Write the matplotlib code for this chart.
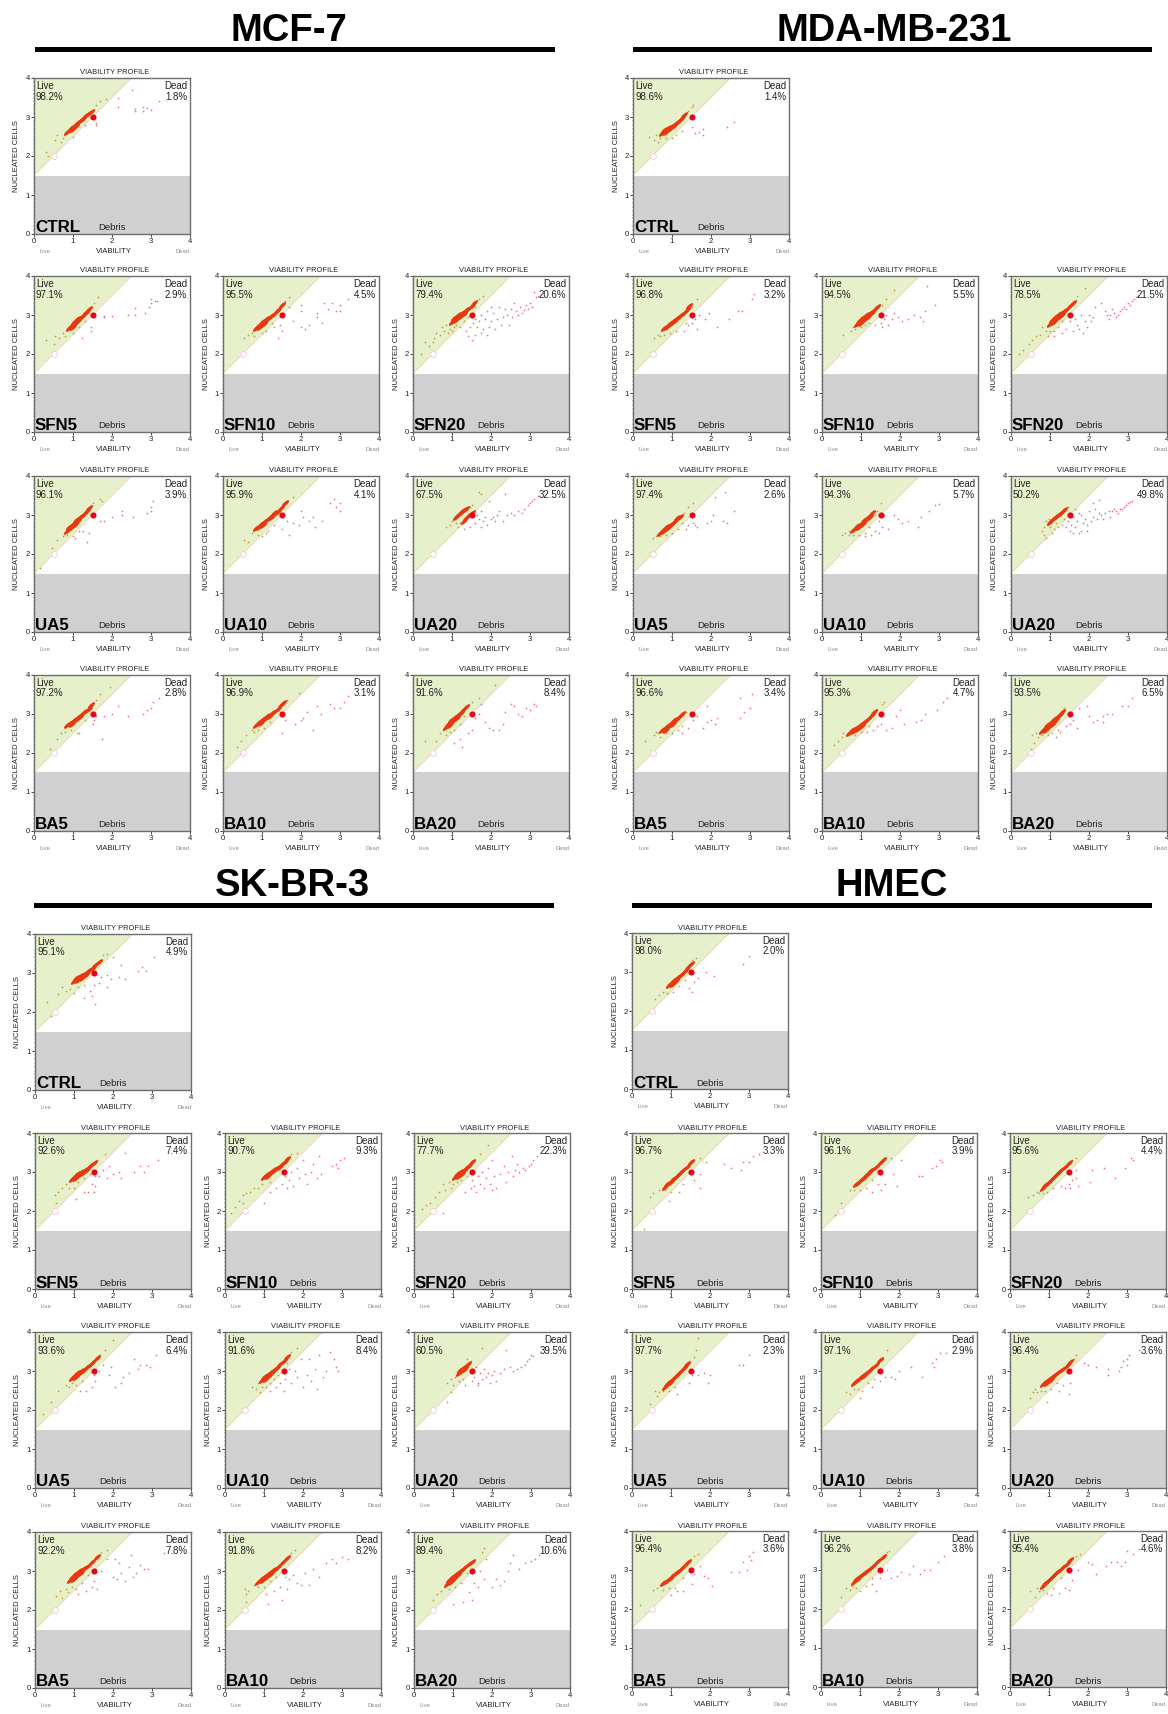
#! /usr/bin/python
# Viability profile panels for four cell lines

import matplotlib
matplotlib.use('Agg')
import matplotlib.pyplot as plt
from matplotlib.path import Path
from matplotlib.ticker import MultipleLocator
from matplotlib.transforms import Affine2D

plt.rcParams['font.family'] = ['Liberation Sans', 'DejaVu Sans']

treatments = ['CTRL', 'SFN5', 'SFN10', 'SFN20', 'UA5', 'UA10', 'UA20', 'BA5', 'BA10', 'BA20']

mcf_live_pct = [98.2, 97.1, 95.5, 79.4, 96.1, 95.9, 67.5, 97.2, 96.9, 91.6]
mcf_dead_pct = [1.8, 2.9, 4.5, 20.6, 3.9, 4.1, 32.5, 2.8, 3.1, 8.4]
mda_live_pct = [98.6, 96.8, 94.5, 78.5, 97.4, 94.3, 50.2, 96.6, 95.3, 93.5]
mda_dead_pct = [1.4, 3.2, 5.5, 21.5, 2.6, 5.7, 49.8, 3.4, 4.7, 6.5]
sk_live_pct = [95.1, 92.6, 90.7, 77.7, 93.6, 91.6, 60.5, 92.2, 91.8, 89.4]
sk_dead_pct = [4.9, 7.4, 9.3, 22.3, 6.4, 8.4, 39.5, 7.8, 8.2, 10.6]
hmec_live_pct = [98.0, 96.7, 96.1, 95.6, 97.7, 97.1, 96.4, 96.4, 96.2, 95.4]
hmec_dead_pct = [2.0, 3.3, 3.9, 4.4, 2.3, 2.9, 3.6, 3.6, 3.8, 4.6]

# MCF-7
m_ctrl_core = [(0.85,2.62),(0.92,2.66),(0.95,2.72),(1.0,2.7),(1.03,2.78),(1.08,2.76),(1.1,2.84),(1.16,2.86),(1.2,2.92),(1.26,2.96),(1.32,3.02),(1.38,3.08),(1.45,3.14)]
m_ctrl_live = [(0.3,2.1),(0.35,2.0),(0.55,2.4),(0.6,2.55),(0.7,2.35),(0.75,2.45),(1.7,3.4),(1.85,3.45),(1.6,3.3),(1.0,2.5),(1.3,2.8)]
m_ctrl_dead = [(2.15,3.5),(2.15,3.25),(2.5,3.7),(2.6,3.2),(2.6,3.15),(2.8,3.25),(2.8,3.15),(2.9,3.22),(3.0,3.18),(3.2,3.4),(1.6,2.85),(1.6,2.8)]
m_sfn5_core = [(0.9,2.66),(0.95,2.72),(1.0,2.7),(1.02,2.82),(1.08,2.8),(1.1,2.9),(1.16,2.88),(1.2,2.96),(1.26,2.98),(1.3,3.04),(1.36,3.08),(1.42,3.16)]
m_sfn5_live = [(0.3,2.35),(0.55,2.45),(0.65,2.4),(0.75,2.55),(0.8,2.45),(1.0,2.55),(1.15,2.7),(1.3,2.85),(1.55,3.3),(1.65,3.45),(0.5,2.25)]
m_sfn5_dead = [(1.45,2.7),(1.45,2.6),(1.22,2.4),(1.8,2.98),(1.8,2.95),(2.0,2.98),(2.4,3.0),(2.6,3.18),(2.6,3.0),(2.85,3.05),(2.95,3.2),(3.0,3.4),(3.0,3.3),(3.1,3.35),(3.15,3.35)]
m_sfn10_core = [(0.85,2.66),(0.9,2.72),(0.95,2.7),(1.0,2.82),(1.05,2.78),(1.1,2.9),(1.16,2.9),(1.22,2.98),(1.28,3.0),(1.35,3.08),(1.42,3.14),(1.5,3.26)]
m_sfn10_live = [(0.55,2.4),(0.65,2.5),(0.75,2.55),(0.8,2.45),(1.0,2.55),(1.1,2.6),(1.25,2.8),(1.6,3.35),(1.7,3.45),(1.3,2.7)]
m_sfn10_dead = [(1.4,2.4),(1.5,2.6),(1.45,2.75),(1.7,3.2),(2.0,3.25),(2.0,3.1),(2.0,2.7),(2.1,2.65),(2.2,2.75),(2.4,3.05),(2.4,2.95),(2.55,2.8),(2.6,3.3),(2.7,3.15),(2.8,3.3),(2.9,3.1),(3.0,3.1),(3.0,3.25),(3.2,3.4),(1.8,2.85)]
m_sfn20_core = [(1.0,2.82),(1.05,2.92),(1.1,2.88),(1.15,3.0),(1.2,2.95),(1.25,3.05),(1.3,3.02),(1.35,3.12),(1.42,3.16),(1.5,3.24),(1.56,3.3)]
m_sfn20_live = [(0.3,2.3),(0.4,2.2),(0.5,2.3),(0.55,2.4),(0.6,2.55),(0.7,2.5),(0.75,2.7),(0.8,2.6),(0.85,2.75),(0.9,2.55),(0.95,2.65),(1.0,2.6),(1.05,2.7),(1.1,2.75),(1.2,2.7),(1.3,2.85),(1.4,2.95),(1.7,3.4),(1.8,3.5),(1.6,3.2),(0.2,2.0)]
m_sfn20_dead = [(1.5,2.35),(1.35,2.6),(1.45,2.7),(1.55,2.8),(1.6,2.9),(1.65,2.7),(1.7,2.85),(1.75,3.0),(1.8,2.65),(1.85,2.9),(1.9,3.1),(1.95,2.7),(2.0,2.85),(2.05,3.05),(2.1,2.65),(2.15,2.9),(2.2,3.2),(2.25,2.75),(2.3,2.95),(2.35,3.15),(2.4,3.0),(2.45,2.75),(2.5,3.15),(2.55,2.95),(2.6,3.3),(2.65,3.1),(2.7,3.0),(2.75,3.2),(2.8,3.05),(2.85,3.12),(2.9,3.25),(2.95,3.15),(3.0,3.3),(3.05,3.2),(3.1,3.6),(3.15,3.45),(3.2,3.5),(1.6,2.5),(1.75,2.55),(1.9,2.5),(2.0,3.2),(1.4,2.45)]
m_ua5_core = [(0.85,2.6),(0.9,2.68),(0.95,2.66),(1.0,2.78),(1.05,2.74),(1.08,2.86),(1.13,2.84),(1.18,2.94),(1.24,2.98),(1.3,3.04),(1.36,3.1),(1.42,3.18)]
m_ua5_live = [(0.15,1.65),(0.45,2.15),(0.6,2.35),(0.75,2.45),(0.85,2.5),(1.0,2.45),(1.15,2.6),(1.5,3.3),(1.7,3.4),(1.75,3.35)]
m_ua5_dead = [(1.05,2.4),(1.35,2.3),(1.4,2.55),(1.25,2.6),(1.7,2.85),(1.8,2.85),(2.0,2.95),(2.25,3.0),(2.25,3.1),(2.55,2.95),(2.9,3.05),(3.0,3.1),(3.0,3.2),(3.05,3.35)]
m_ua10_core = [(0.85,2.66),(0.92,2.7),(0.98,2.76),(1.03,2.74),(1.08,2.84),(1.14,2.86),(1.2,2.94),(1.26,2.96),(1.32,3.04),(1.4,3.08),(1.48,3.18),(1.58,3.3)]
m_ua10_live = [(0.55,2.35),(0.65,2.3),(0.75,2.55),(0.9,2.5),(1.0,2.45),(1.15,2.6),(1.3,2.75),(1.65,3.3),(1.8,3.45),(1.1,2.55)]
m_ua10_dead = [(1.5,2.65),(1.7,2.5),(1.65,2.85),(1.8,2.8),(1.95,2.75),(2.0,3.1),(2.05,2.95),(2.2,2.85),(2.35,2.7),(2.55,2.85),(2.75,3.3),(2.85,3.4),(2.9,3.2),(3.0,3.3),(3.0,3.1),(2.3,2.95)]
m_ua20_core = [(1.1,2.95),(1.14,2.98),(1.18,3.02),(1.22,3.06),(1.26,3.1),(1.3,3.13),(1.36,3.16),(1.3,2.85),(1.36,2.92),(1.44,3.0),(1.52,3.05)]
m_ua20_live = [(0.85,2.7),(0.95,2.75),(1.0,2.85),(1.1,2.8),(1.15,2.7),(1.2,2.8),(1.3,2.65),(1.45,3.2),(1.5,3.25),(1.7,3.6),(1.75,3.55),(1.05,2.9)]
m_ua20_dead = [(1.45,2.7),(1.55,2.95),(1.6,2.8),(1.65,3.0),(1.7,2.9),(1.75,3.1),(1.8,2.85),(1.85,2.95),(1.9,2.75),(2.0,2.9),(2.05,2.95),(2.1,2.85),(2.15,3.0),(2.2,3.1),(2.3,2.85),(2.35,3.55),(2.4,3.0),(2.5,3.05),(2.6,3.0),(2.7,3.1),(2.8,3.05),(2.85,3.15),(2.95,3.25),(3.0,3.3),(3.05,3.35),(3.1,3.4),(3.2,3.5),(1.75,2.7),(1.95,3.35)]
m_ba5_core = [(0.85,2.72),(0.92,2.76),(0.98,2.74),(1.02,2.84),(1.08,2.84),(1.12,2.92),(1.18,2.92),(1.22,3.0),(1.28,3.04),(1.34,3.08),(1.4,3.14),(1.46,3.22)]
m_ba5_live = [(0.4,2.1),(0.6,2.35),(0.7,2.5),(0.8,2.55),(0.95,2.6),(1.1,2.5),(1.3,2.85),(1.6,3.35),(1.7,3.5),(1.95,3.7)]
m_ba5_dead = [(1.15,2.5),(1.55,2.85),(1.6,2.95),(1.75,2.35),(1.8,2.95),(2.0,3.0),(2.15,3.2),(2.4,2.95),(2.8,3.0),(2.9,3.1),(3.0,3.15),(3.05,3.3),(3.2,3.4),(1.5,2.75)]
m_ba10_core = [(0.85,2.72),(0.92,2.8),(0.98,2.78),(1.03,2.88),(1.08,2.86),(1.13,2.94),(1.2,2.96),(1.25,3.02),(1.32,3.06),(1.4,3.14),(1.48,3.22),(1.55,3.28)]
m_ba10_live = [(0.35,2.15),(0.45,2.3),(0.6,2.45),(0.75,2.6),(0.9,2.6),(1.05,2.65),(1.2,2.8),(1.65,3.35),(1.95,3.55),(0.8,2.55)]
m_ba10_dead = [(1.5,2.5),(1.6,2.85),(1.85,2.75),(2.05,2.9),(2.15,3.05),(2.3,2.6),(2.4,3.2),(2.5,3.0),(2.75,3.25),(2.85,3.15),(3.0,3.15),(3.1,3.3),(3.2,3.45),(2.0,2.85)]
m_ba20_core = [(0.85,2.66),(0.9,2.75),(0.95,2.72),(0.98,2.85),(1.03,2.82),(1.08,2.92),(1.12,2.9),(1.18,3.0),(1.22,3.02),(1.28,3.1),(1.35,3.18)]
m_ba20_live = [(0.3,2.3),(0.6,2.3),(0.7,2.5),(0.78,2.6),(0.85,2.45),(0.95,2.55),(1.05,2.6),(1.2,2.75),(1.3,2.95),(1.5,3.3),(1.7,3.4),(2.1,3.75)]
m_ba20_dead = [(1.2,2.35),(1.25,2.15),(1.05,2.25),(1.4,2.5),(1.5,2.6),(1.6,2.9),(1.7,3.0),(1.75,3.25),(1.85,2.8),(1.95,2.65),(2.05,2.6),(2.2,2.6),(2.3,2.75),(2.35,3.05),(2.5,3.25),(2.6,3.2),(2.7,3.0),(2.8,2.95),(2.9,3.15),(3.0,3.1),(3.1,3.25),(3.15,3.2)]

# MDA-MB-231
d_ctrl_core = [(0.75,2.6),(0.8,2.66),(0.85,2.62),(0.9,2.72),(0.95,2.68),(1.0,2.78),(1.05,2.76),(1.1,2.84),(1.15,2.88),(1.2,2.92),(1.25,2.98),(1.3,3.04)]
d_ctrl_live = [(0.4,2.5),(0.55,2.4),(0.6,2.55),(0.7,2.45),(0.85,2.45),(1.0,2.45),(1.1,2.55),(1.25,2.65),(1.5,3.25),(1.55,3.3),(1.4,3.15),(0.65,2.35)]
d_ctrl_dead = [(1.5,2.75),(1.6,2.6),(1.7,2.62),(1.8,2.68),(1.8,2.55),(2.4,2.75),(2.6,2.88)]
d_sfn5_core = [(0.8,2.66),(0.88,2.7),(0.92,2.78),(0.98,2.76),(1.03,2.84),(1.08,2.84),(1.13,2.92),(1.18,2.94),(1.24,3.0),(1.3,3.06),(1.38,3.14),(1.44,3.24)]
d_sfn5_live = [(0.55,2.4),(0.65,2.5),(0.7,2.45),(0.8,2.5),(0.95,2.55),(1.1,2.6),(1.5,3.2),(1.65,3.4),(1.35,2.8)]
d_sfn5_dead = [(1.3,2.6),(1.4,2.75),(1.5,2.8),(1.6,2.9),(1.7,3.0),(1.65,2.65),(1.85,2.9),(1.95,3.05),(2.15,2.7),(2.45,2.9),(2.7,3.1),(2.8,3.1),(3.05,3.4),(3.1,3.55)]
d_sfn10_core = [(0.9,2.76),(0.95,2.84),(1.0,2.8),(1.03,2.92),(1.08,2.88),(1.12,3.0),(1.17,2.96),(1.22,3.06),(1.27,3.04),(1.33,3.12),(1.4,3.2)]
d_sfn10_live = [(0.55,2.5),(0.75,2.6),(0.85,2.65),(1.0,2.7),(1.1,2.75),(1.2,2.8),(1.55,3.25),(1.65,3.4),(1.85,3.65),(0.8,2.7)]
d_sfn10_dead = [(1.35,2.75),(1.5,2.8),(1.6,2.9),(1.65,3.0),(1.7,2.75),(1.8,2.9),(1.85,3.05),(1.95,2.95),(2.05,2.85),(2.2,2.9),(2.35,3.0),(2.5,2.95),(2.6,2.85),(2.65,3.1),(2.7,3.75),(2.9,3.25),(1.55,2.7)]
d_sfn20_core = [(1.0,2.76),(1.05,2.86),(1.1,2.82),(1.14,2.96),(1.2,2.92),(1.24,3.02),(1.3,3.0),(1.35,3.1),(1.42,3.14),(1.5,3.22),(1.58,3.3)]
d_sfn20_live = [(0.2,2.0),(0.3,2.1),(0.45,2.25),(0.55,2.35),(0.65,2.45),(0.75,2.5),(0.8,2.7),(0.9,2.6),(0.95,2.45),(1.0,2.6),(1.1,2.6),(1.2,2.7),(1.3,2.85),(1.45,3.0),(1.7,3.5),(1.9,3.7)]
d_sfn20_dead = [(1.1,2.45),(1.3,2.55),(1.4,2.65),(1.5,2.85),(1.6,2.6),(1.65,2.9),(1.7,2.75),(1.75,2.65),(1.8,3.0),(1.85,2.55),(1.9,2.85),(1.95,2.7),(2.0,3.0),(2.05,2.85),(2.1,2.95),(2.15,3.2),(2.3,3.3),(2.4,3.1),(2.45,3.0),(2.5,2.9),(2.55,3.0),(2.6,3.15),(2.65,3.05),(2.7,2.95),(2.75,3.0),(2.8,3.1),(2.85,3.15),(2.9,3.2),(2.95,3.15),(3.0,3.3),(3.05,3.25),(3.1,3.35),(3.15,3.4),(3.2,3.45),(3.25,3.5)]
d_ua5_core = [(0.7,2.55),(0.76,2.62),(0.8,2.6),(0.85,2.68),(0.9,2.66),(0.94,2.74),(0.98,2.74),(1.02,2.8),(1.06,2.82),(1.1,2.86),(1.14,2.92),(1.2,2.96)]
d_ua5_live = [(0.5,2.4),(0.6,2.45),(0.7,2.45),(0.85,2.5),(1.0,2.55),(1.15,2.65),(1.3,3.05),(1.4,3.2),(1.55,3.3),(0.65,2.5),(1.25,2.8)]
d_ua5_dead = [(1.35,2.65),(1.55,2.8),(1.6,2.75),(1.65,2.7),(1.9,2.8),(2.0,2.85),(2.05,3.0),(2.3,2.85),(2.4,2.8),(2.6,3.1),(2.35,3.6),(2.1,3.45),(1.4,2.75)]
d_ua10_core = [(0.8,2.62),(0.86,2.66),(0.9,2.72),(0.95,2.7),(1.0,2.78),(1.04,2.76),(1.08,2.86),(1.13,2.86),(1.18,2.94),(1.22,2.96),(1.28,3.04)]
d_ua10_live = [(0.5,2.5),(0.6,2.55),(0.7,2.5),(0.8,2.5),(0.95,2.5),(1.1,2.55),(1.2,2.7),(1.4,3.1),(1.5,3.3),(0.7,2.6),(1.35,3.0)]
d_ua10_dead = [(1.1,2.45),(1.25,2.5),(1.35,2.6),(1.45,2.55),(1.55,2.7),(1.6,3.0),(1.7,2.65),(1.85,3.0),(1.95,2.9),(2.05,2.8),(2.2,2.85),(2.45,2.7),(2.55,2.95),(2.75,3.1),(2.9,3.25),(3.0,3.28),(1.45,2.85)]
d_ua20_core = [(1.0,2.82),(1.05,2.88),(1.1,2.92),(1.15,2.96),(1.2,3.0),(1.25,3.03),(1.3,3.08),(1.35,3.12)]
d_ua20_live = [(0.8,2.6),(0.85,2.7),(0.9,2.85),(0.95,2.75),(1.0,2.7),(1.05,2.55),(1.1,2.65),(1.15,2.8),(1.2,2.7),(1.3,2.75),(1.35,2.9),(1.45,3.2),(0.9,2.4),(0.85,2.5),(0.98,2.9)]
d_ua20_dead = [(1.4,2.7),(1.45,2.85),(1.5,2.6),(1.55,2.75),(1.6,2.95),(1.65,2.7),(1.7,2.85),(1.75,3.05),(1.8,2.6),(1.85,2.8),(1.9,2.9),(1.95,2.75),(2.0,3.1),(2.05,2.85),(2.1,2.95),(2.15,3.15),(2.2,2.9),(2.25,3.05),(2.3,3.0),(2.35,2.9),(2.4,3.05),(2.5,3.1),(2.55,2.95),(2.6,3.1),(2.65,3.15),(2.7,3.1),(2.75,3.05),(2.8,3.15),(2.85,3.15),(2.9,3.2),(2.95,3.25),(3.0,3.3),(3.05,3.33),(3.1,3.35),(1.5,3.05),(1.65,3.15),(1.8,3.0),(1.95,2.6),(2.1,3.3),(2.25,3.38),(1.6,2.55),(1.75,2.55)]
d_ba5_core = [(0.75,2.58),(0.8,2.62),(0.85,2.6),(0.88,2.7),(0.93,2.68),(0.98,2.76),(1.02,2.74),(1.06,2.84),(1.1,2.84),(1.15,2.9),(1.2,2.96),(1.25,3.0)]
d_ba5_live = [(0.3,2.3),(0.55,2.45),(0.65,2.5),(0.7,2.4),(0.85,2.5),(1.0,2.5),(1.15,2.6),(1.25,2.7),(1.35,3.05),(0.6,2.55)]
d_ba5_dead = [(1.25,2.5),(1.4,2.65),(1.55,2.85),(1.65,2.95),(1.8,2.65),(1.9,3.2),(1.9,2.8),(2.0,2.85),(2.1,2.75),(2.15,2.9),(2.75,3.4),(2.75,2.9),(2.85,3.05),(3.0,3.15),(3.05,3.5)]
d_ba10_core = [(0.7,2.52),(0.76,2.58),(0.82,2.56),(0.88,2.64),(0.92,2.62),(0.98,2.72),(1.03,2.7),(1.08,2.8),(1.13,2.82),(1.2,2.9),(1.28,2.98),(1.34,3.05)]
d_ba10_live = [(0.3,2.2),(0.4,2.3),(0.5,2.4),(0.55,2.5),(0.7,2.45),(0.85,2.45),(1.0,2.55),(1.2,2.7),(1.4,3.1),(1.55,3.25),(1.6,3.3)]
d_ba10_dead = [(1.15,2.55),(1.3,2.6),(1.4,2.7),(1.5,2.75),(1.65,2.6),(1.8,2.65),(1.9,2.95),(2.0,3.1),(2.1,2.75),(2.4,2.8),(2.55,2.85),(2.65,3.0),(2.95,3.1),(3.1,3.3),(3.2,3.4)]
d_ba20_core = [(0.8,2.56),(0.85,2.62),(0.9,2.58),(0.93,2.72),(0.98,2.66),(1.02,2.8),(1.07,2.74),(1.1,2.88),(1.15,2.84),(1.2,2.96),(1.26,2.98),(1.3,3.06)]
d_ba20_live = [(0.55,2.45),(0.6,2.25),(0.65,2.5),(0.7,2.4),(0.8,2.45),(0.95,2.45),(1.05,2.5),(1.2,2.6),(1.35,3.15),(0.5,2.1)]
d_ba20_dead = [(1.15,2.4),(1.25,2.55),(1.4,2.7),(1.5,2.75),(1.6,2.85),(1.7,2.65),(1.75,3.15),(2.0,2.95),(2.1,2.8),(2.2,2.85),(2.35,2.8),(2.35,2.95),(2.45,3.0),(2.6,3.0),(2.85,3.2),(3.0,3.2),(3.1,3.4),(1.95,3.2)]

# SK-BR-3
s_ctrl_core = [(1.0,2.8),(1.06,2.86),(1.1,2.82),(1.15,2.92),(1.2,2.88),(1.25,2.98),(1.3,2.96),(1.36,3.04),(1.42,3.08),(1.48,3.14),(1.55,3.2),(1.65,3.28)]
s_ctrl_live = [(0.3,2.25),(0.6,2.45),(0.7,2.65),(0.8,2.55),(0.9,2.6),(1.0,2.5),(1.1,2.65),(1.25,2.7),(1.75,3.45),(1.85,3.5),(2.0,3.4),(0.4,1.9)]
s_ctrl_dead = [(1.25,2.35),(1.45,2.4),(1.55,2.2),(1.5,2.7),(1.65,2.75),(1.7,2.9),(1.85,2.65),(1.85,2.95),(1.95,2.85),(2.15,2.9),(2.3,2.85),(2.2,3.2),(2.65,3.05),(2.75,3.15),(2.85,3.05),(3.05,3.4),(1.4,2.55)]
s_sfn5_core = [(0.95,2.82),(1.0,2.88),(1.05,2.84),(1.08,2.94),(1.13,2.92),(1.18,3.0),(1.23,2.98),(1.28,3.06),(1.33,3.06),(1.38,3.14),(1.44,3.18),(1.5,3.24)]
s_sfn5_live = [(0.5,2.4),(0.6,2.5),(0.7,2.6),(0.8,2.7),(0.88,2.6),(1.0,2.6),(1.1,2.75),(1.25,2.85),(1.4,2.95),(1.6,3.3),(1.8,3.45),(0.55,2.2)]
s_sfn5_dead = [(1.05,2.3),(1.25,2.5),(1.35,2.5),(1.45,2.7),(1.55,2.65),(1.55,2.9),(1.65,2.9),(1.75,3.05),(1.85,2.85),(1.9,3.15),(2.0,2.95),(2.15,3.0),(2.2,2.85),(2.3,3.5),(2.55,3.0),(2.7,3.15),(2.8,3.0),(2.9,3.15),(3.15,3.3),(1.5,2.5)]
s_sfn10_core = [(1.0,2.86),(1.05,2.92),(1.1,2.9),(1.14,2.98),(1.19,2.98),(1.24,3.04),(1.29,3.04),(1.34,3.1),(1.4,3.14),(1.46,3.2),(1.53,3.26),(1.6,3.34)]
s_sfn10_live = [(0.15,1.95),(0.25,2.1),(0.35,2.25),(0.45,2.4),(0.55,2.45),(0.65,2.5),(0.75,2.6),(0.85,2.6),(0.95,2.7),(0.45,2.2),(1.7,3.45),(1.85,3.5),(1.15,2.75)]
s_sfn10_dead = [(1.0,2.2),(1.15,2.5),(1.3,2.6),(1.45,2.7),(1.55,2.9),(1.65,2.8),(1.7,3.0),(1.75,2.65),(1.85,3.1),(1.9,2.85),(2.0,3.3),(2.05,2.95),(2.1,2.7),(2.2,3.0),(2.25,3.2),(2.35,2.85),(2.4,3.4),(2.45,2.95),(2.75,3.15),(2.85,3.2),(2.9,3.1),(2.95,3.3),(3.05,3.35),(1.6,2.6)]
s_sfn20_core = [(1.05,2.86),(1.1,2.94),(1.15,2.9),(1.18,3.0),(1.23,2.96),(1.27,3.06),(1.32,3.04),(1.36,3.14),(1.42,3.16),(1.5,3.26)]
s_sfn20_live = [(0.3,2.15),(0.4,2.2),(0.55,2.35),(0.65,2.5),(0.75,2.7),(0.8,2.55),(0.9,2.75),(0.95,2.6),(1.0,2.7),(1.1,2.75),(1.2,2.8),(1.35,2.9),(1.55,3.3),(1.7,3.45),(1.9,3.7),(0.2,2.05)]
s_sfn20_dead = [(0.75,1.95),(1.3,2.5),(1.45,2.6),(1.5,2.8),(1.6,2.5),(1.65,2.9),(1.7,2.7),(1.75,3.0),(1.8,2.6),(1.85,2.85),(1.9,3.1),(1.95,2.7),(2.0,3.3),(2.05,2.9),(2.1,2.6),(2.2,2.95),(2.3,3.15),(2.35,2.75),(2.4,3.0),(2.5,3.4),(2.55,2.9),(2.6,3.05),(2.65,3.2),(2.7,3.0),(2.8,3.1),(2.85,3.05),(2.95,3.15),(3.0,3.2),(3.05,3.3),(3.15,3.4),(1.55,2.65),(2.0,2.55)]
s_ua5_core = [(0.95,2.82),(1.0,2.88),(1.05,2.84),(1.08,2.94),(1.14,2.92),(1.18,3.0),(1.23,3.0),(1.28,3.06),(1.34,3.1),(1.4,3.16),(1.48,3.24),(1.58,3.34)]
s_ua5_live = [(0.2,1.9),(0.4,2.2),(0.6,2.5),(0.8,2.65),(0.88,2.6),(0.95,2.7),(1.05,2.65),(1.2,2.75),(1.65,3.4),(1.8,3.55),(2.0,3.8)]
s_ua5_dead = [(1.15,2.5),(1.3,2.5),(1.45,2.6),(1.55,2.75),(1.65,3.0),(1.75,3.15),(1.95,3.1),(2.05,2.6),(2.2,2.7),(2.25,2.85),(2.4,2.95),(2.55,3.3),(2.65,3.05),(2.7,3.15),(2.85,3.15),(2.95,3.1),(3.1,3.4),(1.9,2.9),(1.5,2.9)]
s_ua10_core = [(0.95,2.76),(1.0,2.84),(1.05,2.8),(1.08,2.9),(1.13,2.88),(1.18,2.98),(1.23,2.98),(1.28,3.06),(1.34,3.08),(1.42,3.18),(1.5,3.26),(1.6,3.36)]
s_ua10_live = [(0.7,2.6),(0.8,2.55),(0.85,2.7),(0.95,2.6),(1.05,2.6),(1.15,2.7),(1.25,2.8),(1.7,3.5),(1.85,3.6),(0.9,2.45),(1.35,2.9)]
s_ua10_dead = [(1.15,2.5),(1.3,2.6),(1.4,2.7),(1.5,2.5),(1.55,2.8),(1.65,3.05),(1.7,2.7),(1.8,3.0),(1.85,2.85),(1.95,3.3),(2.0,2.6),(2.1,2.9),(2.15,3.3),(2.2,2.75),(2.3,3.05),(2.35,2.55),(2.5,2.85),(2.6,3.0),(2.7,3.5),(2.8,3.3),(2.85,3.1),(2.9,3.0),(2.4,3.4),(1.6,3.2)]
s_ua20_core = [(1.15,2.96),(1.18,3.02),(1.22,3.0),(1.25,3.08),(1.3,3.06),(1.33,3.14),(1.38,3.18)]
s_ua20_live = [(0.85,2.7),(0.95,2.8),(1.0,2.65),(1.05,2.85),(1.15,2.75),(1.25,2.8),(1.3,2.65),(1.35,3.3),(1.45,3.25),(1.75,3.6),(0.95,2.45),(0.85,2.2)]
s_ua20_dead = [(1.45,2.95),(1.55,2.85),(1.6,3.1),(1.65,2.7),(1.7,2.95),(1.75,2.8),(1.8,3.05),(1.85,2.85),(1.9,2.95),(1.95,2.7),(2.0,2.9),(2.05,3.0),(2.1,2.75),(2.2,2.95),(2.3,3.05),(2.35,3.55),(2.45,3.1),(2.55,3.0),(2.65,3.05),(2.75,3.1),(2.85,3.15),(2.9,3.25),(2.95,3.3),(3.0,3.4),(3.05,3.38),(1.65,2.65),(1.5,2.75)]
s_ba5_core = [(0.9,2.76),(0.95,2.84),(1.0,2.8),(1.03,2.92),(1.08,2.88),(1.12,3.0),(1.18,2.96),(1.22,3.06),(1.28,3.08),(1.35,3.14),(1.45,3.24),(1.58,3.36)]
s_ba5_live = [(0.55,2.35),(0.65,2.5),(0.8,2.55),(0.85,2.45),(0.95,2.6),(1.05,2.55),(1.2,2.7),(1.35,2.9),(1.7,3.5),(1.85,3.55),(0.7,2.3)]
s_ba5_dead = [(1.1,2.4),(1.3,2.5),(1.45,2.6),(1.5,2.75),(1.6,2.55),(1.7,3.0),(1.85,3.3),(2.0,2.85),(2.05,3.3),(2.1,2.8),(2.2,2.95),(2.3,2.75),(2.4,3.1),(2.45,3.4),(2.5,2.85),(2.6,2.95),(2.7,3.15),(2.8,3.05),(2.9,3.05),(3.3,3.45),(2.15,3.2)]
s_ba10_core = [(0.85,2.72),(0.92,2.8),(0.97,2.76),(1.02,2.88),(1.07,2.84),(1.13,2.96),(1.18,2.92),(1.24,3.02),(1.3,3.04),(1.38,3.14),(1.48,3.22),(1.6,3.34)]
s_ba10_live = [(0.5,2.55),(0.55,2.2),(0.6,2.5),(0.75,2.65),(0.85,2.6),(1.0,2.6),(1.15,2.75),(1.3,2.85),(1.7,3.45),(1.8,3.55),(0.55,2.4)]
s_ba10_dead = [(1.1,2.15),(1.45,2.25),(1.05,2.4),(1.25,2.5),(1.4,2.6),(1.55,2.85),(1.65,2.8),(1.75,2.9),(1.85,2.7),(1.95,2.65),(2.05,2.95),(2.15,2.65),(2.25,3.05),(2.4,2.85),(2.6,3.2),(2.75,3.3),(2.85,3.2),(3.0,3.35),(3.15,3.3),(1.6,2.55)]
s_ba20_core = [(0.85,2.66),(0.9,2.76),(0.95,2.72),(0.98,2.84),(1.03,2.8),(1.08,2.92),(1.13,2.9),(1.18,3.0),(1.24,3.02),(1.32,3.1),(1.4,3.18),(1.48,3.24)]
s_ba20_live = [(0.5,2.25),(0.6,2.4),(0.7,2.5),(0.8,2.6),(0.9,2.55),(1.05,2.6),(1.2,2.7),(1.35,2.95),(1.75,3.5),(1.8,3.6),(0.5,2.05)]
s_ba20_dead = [(1.0,2.15),(1.25,2.2),(1.4,2.45),(1.5,2.25),(1.55,2.7),(1.7,3.0),(1.8,2.8),(1.85,3.3),(2.0,2.6),(2.1,2.8),(2.2,2.65),(2.4,3.0),(2.45,3.2),(2.55,3.4),(2.7,3.05),(2.85,3.2),(3.0,3.25),(3.1,3.3),(3.2,3.4),(2.3,2.75),(1.65,2.6)]

# HMEC
h_ctrl_core = [(0.95,2.66),(1.0,2.72),(1.04,2.7),(1.08,2.8),(1.13,2.78),(1.17,2.86),(1.22,2.9),(1.28,2.96),(1.33,3.0),(1.38,3.06),(1.44,3.12),(1.5,3.2)]
h_ctrl_live = [(0.6,2.3),(0.7,2.4),(0.8,2.5),(0.9,2.45),(1.05,2.5),(1.2,2.65),(1.55,3.3),(1.65,3.35),(1.35,2.8)]
h_ctrl_dead = [(1.45,2.6),(1.6,2.75),(1.7,2.85),(1.9,3.0),(2.85,3.2),(3.0,3.4),(2.1,2.9),(1.55,2.5)]
h_sfn5_core = [(0.85,2.62),(0.9,2.68),(0.95,2.72),(1.0,2.74),(1.05,2.82),(1.1,2.84),(1.15,2.9),(1.2,2.94),(1.26,3.0),(1.32,3.06),(1.4,3.14),(1.5,3.26)]
h_sfn5_live = [(0.3,1.55),(0.45,2.35),(0.55,2.45),(0.7,2.55),(0.85,2.55),(1.0,2.5),(1.6,3.3),(1.75,3.35),(1.9,3.25)]
h_sfn5_dead = [(0.95,2.25),(1.2,2.5),(1.3,2.7),(1.6,2.8),(1.75,2.95),(1.75,2.6),(2.35,3.2),(2.55,3.1),(2.8,3.05),(2.85,3.25),(3.0,3.25),(3.1,3.4),(3.25,3.45)]
h_sfn10_core = [(0.9,2.68),(0.95,2.72),(1.0,2.76),(1.05,2.82),(1.1,2.84),(1.15,2.92),(1.2,2.94),(1.26,3.02),(1.32,3.06),(1.4,3.14),(1.5,3.24),(1.6,3.32)]
h_sfn10_live = [(0.35,1.9),(0.5,2.2),(0.75,2.55),(0.85,2.55),(1.0,2.55),(1.15,2.6),(1.3,2.8),(1.65,3.35),(1.8,3.35)]
h_sfn10_dead = [(1.3,2.5),(1.45,2.7),(1.55,2.55),(1.65,2.7),(1.85,2.95),(1.95,2.65),(2.05,3.3),(2.5,2.9),(2.6,2.9),(2.85,3.1),(2.95,3.15),(3.05,3.3),(3.1,3.25)]
h_sfn20_core = [(0.85,2.6),(0.9,2.66),(0.95,2.7),(1.0,2.74),(1.05,2.8),(1.1,2.84),(1.15,2.9),(1.2,2.94),(1.26,3.0),(1.32,3.06),(1.4,3.14),(1.5,3.22)]
h_sfn20_live = [(0.45,2.35),(0.6,2.4),(0.75,2.45),(0.85,2.45),(0.95,2.5),(1.1,2.6),(1.6,3.3),(1.7,3.35),(0.7,2.5)]
h_sfn20_dead = [(1.3,2.65),(1.4,2.6),(1.5,2.7),(1.55,2.6),(1.6,2.8),(1.7,2.85),(1.7,3.05),(2.05,2.75),(2.1,3.05),(2.4,3.1),(2.7,2.85),(2.95,3.1),(3.1,3.35),(3.15,3.3),(1.75,2.65)]
h_ua5_core = [(0.85,2.6),(0.9,2.66),(0.94,2.72),(0.98,2.7),(1.03,2.78),(1.08,2.82),(1.13,2.88),(1.18,2.92),(1.24,2.98),(1.3,3.04),(1.36,3.1),(1.42,3.18)]
h_ua5_live = [(0.45,2.15),(0.6,2.5),(0.7,2.45),(0.8,2.5),(0.95,2.5),(1.1,2.6),(1.6,3.35),(1.65,3.55),(1.7,3.85),(0.65,2.35)]
h_ua5_dead = [(1.15,2.4),(1.45,2.7),(1.55,2.9),(1.7,2.9),(1.85,2.95),(1.95,2.7),(2.0,2.9),(2.75,3.15),(2.85,3.15),(3.0,3.4)]
h_ua10_core = [(0.85,2.7),(0.9,2.74),(0.95,2.78),(1.0,2.82),(1.05,2.86),(1.1,2.88),(1.15,2.94),(1.2,2.98),(1.26,3.02),(1.32,3.08),(1.4,3.16),(1.5,3.28)]
h_ua10_live = [(0.65,2.45),(0.75,2.4),(0.85,2.55),(0.95,2.55),(1.05,2.5),(1.2,2.7),(1.35,2.8),(1.6,3.3),(1.7,3.55),(0.8,2.65)]
h_ua10_dead = [(1.0,2.3),(1.3,2.6),(1.5,2.75),(1.65,2.85),(1.8,2.85),(2.0,3.0),(2.3,3.1),(2.6,2.85),(2.85,3.2),(2.95,3.3),(3.05,3.45),(3.2,3.45),(1.9,2.8),(2.9,3.1)]
h_ua20_core = [(0.85,2.66),(0.9,2.72),(0.95,2.7),(1.0,2.8),(1.05,2.78),(1.1,2.86),(1.15,2.9),(1.2,2.96),(1.27,3.0),(1.35,3.06),(1.45,3.14),(1.55,3.24)]
h_ua20_live = [(0.5,2.3),(0.6,2.45),(0.7,2.45),(0.8,2.5),(0.9,2.5),(1.05,2.55),(1.2,2.7),(1.65,3.3),(1.7,3.4),(0.65,2.55),(0.95,2.2)]
h_ua20_dead = [(1.25,2.5),(1.35,2.65),(1.5,2.4),(1.55,2.7),(1.9,3.2),(2.0,3.15),(2.2,3.1),(2.5,3.05),(2.5,2.9),(2.8,3.0),(2.85,3.1),(3.0,3.15),(3.0,3.3),(3.05,3.4),(2.9,3.25),(3.3,3.55)]
h_ba5_core = [(0.8,2.66),(0.85,2.7),(0.9,2.72),(0.95,2.78),(1.0,2.8),(1.05,2.86),(1.1,2.9),(1.15,2.94),(1.2,2.98),(1.28,3.04),(1.36,3.12),(1.44,3.2)]
h_ba5_live = [(0.2,2.1),(0.55,2.5),(0.65,2.55),(0.8,2.5),(0.95,2.55),(1.1,2.55),(1.3,2.8),(1.6,3.35),(1.7,3.4)]
h_ba5_dead = [(1.0,2.35),(1.15,2.45),(1.3,2.45),(1.55,2.65),(1.6,2.9),(1.75,3.1),(1.85,2.85),(1.95,2.8),(2.05,2.6),(2.55,2.95),(2.75,2.95),(2.85,3.2),(2.95,3.0),(3.0,3.35),(3.05,3.25),(3.1,3.45)]
h_ba10_core = [(0.85,2.7),(0.9,2.76),(0.95,2.78),(1.0,2.84),(1.05,2.86),(1.1,2.92),(1.15,2.96),(1.2,3.0),(1.27,3.06),(1.35,3.14),(1.45,3.24),(1.6,3.34)]
h_ba10_live = [(0.5,2.3),(0.65,2.55),(0.8,2.6),(0.9,2.55),(1.0,2.45),(1.15,2.6),(1.3,2.8),(1.7,3.45),(1.75,3.5),(0.75,2.5)]
h_ba10_dead = [(1.3,2.65),(1.5,2.8),(1.7,3.0),(1.8,2.8),(1.95,2.85),(2.05,2.95),(2.25,2.9),(2.35,3.1),(2.55,2.9),(2.65,3.0),(2.8,3.0),(3.0,3.2),(3.15,3.35),(1.4,2.45)]
h_ba20_core = [(0.85,2.6),(0.9,2.66),(0.95,2.7),(1.0,2.74),(1.05,2.8),(1.1,2.84),(1.15,2.9),(1.2,2.94),(1.27,3.0),(1.35,3.08),(1.45,3.16),(1.55,3.26)]
h_ba20_live = [(0.5,2.45),(0.65,2.3),(0.75,2.45),(0.85,2.5),(0.95,2.4),(1.1,2.55),(1.3,2.8),(1.7,3.35),(1.8,3.4),(0.7,2.55)]
h_ba20_dead = [(1.05,2.35),(1.25,2.4),(1.4,2.55),(1.5,2.5),(1.6,2.75),(1.75,3.0),(2.0,3.2),(2.1,3.15),(2.2,2.9),(2.45,3.1),(2.6,3.2),(2.75,3.2),(2.85,3.1),(2.95,3.2),(3.0,3.5),(3.15,3.4),(3.3,3.55)]

# name, prefix, live, dead, column lefts, row tops, title centre/y, rule x0/x1/y
blocks = [
    ('MCF-7', 'm', mcf_live_pct, mcf_dead_pct, [34, 223, 413], [78, 276, 476, 675], 289, 31, 35, 555, 49),
    ('MDA-MB-231', 'd', mda_live_pct, mda_dead_pct, [633, 822, 1011], [78, 276, 476, 675], 894, 31, 633, 1152, 49),
    ('SK-BR-3', 's', sk_live_pct, sk_dead_pct, [35, 225, 414], [934, 1133, 1332, 1532], 292, 886, 34, 554, 905),
    ('HMEC', 'h', hmec_live_pct, hmec_dead_pct, [632, 821, 1010], [933, 1133, 1332, 1531], 892, 886, 632, 1152, 905),
]

W, H = 1168, 1714
PW, PH = 156, 156

# CTRL sits alone in column 0 on the top row, the rest fill rows 1-3
slots = [(0, 0), (0, 1), (1, 1), (2, 1), (0, 2), (1, 2), (2, 2), (0, 3), (1, 3), (2, 3)]

# Streak shaped marker so the core points merge into a diagonal band
streak = Path.unit_circle().transformed(Affine2D().scale(1, 0.36).rotate_deg(42))


def xy(points):
    return [p[0] for p in points], [p[1] for p in points]


def drawPanel(fig, left, top, label, live_pct, dead_pct, core, live, dead):
    ax = fig.add_axes([left / W, 1 - (top + PH) / H, PW / W, PH / H])
    ax.set_xlim(0, 4)
    ax.set_ylim(0, 4)
    ax.fill([0, 2.5, 0], [1.5, 4, 4], color='#e6f0cb', lw=0, zorder=1)
    ax.plot([0, 2.5], [1.5, 4], color='#eed9b0', lw=0.7, zorder=1)
    ax.fill([0, 4, 4, 0], [0, 0, 1.5, 1.5], color='#d0d0d0', lw=0, zorder=1)

    ax.plot(*xy(dead), ls='', marker='o', ms=1.25, mew=0, color='#f2708a', zorder=2)
    ax.plot(*xy(live), ls='', marker='o', ms=1.25, mew=0, color='#c49a3c', zorder=2)
    ax.plot(*xy(core), ls='', marker=streak, ms=5.4, mew=0, color='#e8390e', zorder=3)
    ax.plot([0.5], [2], ls='', marker='o', ms=4.2, mfc='white', mec='#f3c9cc', mew=0.6, zorder=4)
    ax.plot([1.5], [3], ls='', marker='o', ms=4.4, mew=0, color='#ee0018', zorder=4)

    for s in ax.spines.values():
        s.set_color('#6e6e6e')
        s.set_linewidth(1.0)
    ax.set_xticks([0, 1, 2, 3, 4])
    ax.set_yticks([0, 1, 2, 3, 4])
    ax.xaxis.set_minor_locator(MultipleLocator(0.1))
    ax.yaxis.set_minor_locator(MultipleLocator(0.1))
    ax.tick_params(which='major', length=2, width=0.6, pad=1, labelsize=5.6, colors='#222222')
    ax.tick_params(which='minor', length=1, width=0.3, color='#555555')

    tr = ax.transAxes
    ax.text(2 / 156, 1 - 8 / 156, 'Live', transform=tr, fontsize=7, ha='left', va='center', color='#222222', zorder=5)
    ax.text(2 / 156, 1 - 18.5 / 156, '%.1f%%' % live_pct, transform=tr, fontsize=7, ha='left', va='center', color='#222222', zorder=5)
    ax.text(1 - 3 / 156, 1 - 8 / 156, 'Dead', transform=tr, fontsize=7, ha='right', va='center', color='#222222', zorder=5)
    ax.text(1 - 3 / 156, 1 - 18.5 / 156, '%.1f%%' % dead_pct, transform=tr, fontsize=7, ha='right', va='center', color='#222222', zorder=5)
    ax.text(1 / 156, -1.5 / 156, label, transform=tr, fontsize=12.2, fontweight='bold', ha='left', va='bottom', color='black', zorder=5)
    ax.text(0.5, 6 / 156, 'Debris', transform=tr, fontsize=6.8, ha='center', va='center', color='#222222', zorder=5)
    ax.text(0.515, 1 + 5 / 156, 'VIABILITY PROFILE', transform=tr, fontsize=5.4, ha='center', va='center', color='#222222')
    ax.text(0.51, -17.5 / 156, 'VIABILITY', transform=tr, fontsize=5.6, ha='center', va='center', color='#222222')
    ax.text(0.035, -17.5 / 156, 'Live', transform=tr, fontsize=4.2, ha='left', va='center', color='#8a8a8a')
    ax.text(1.0, -17.5 / 156, 'Dead', transform=tr, fontsize=4.2, ha='right', va='center', color='#8a8a8a')
    ax.text(-17 / 156, 0.5, 'NUCLEATED CELLS', transform=tr, fontsize=5.5, rotation=90, ha='center', va='center', color='#222222')


def main():
    fig = plt.figure(figsize=(W / 100, H / 100), dpi=100, facecolor='white')
    for name, prefix, live_pct, dead_pct, lefts, tops, tx, ty, rx0, rx1, ry in blocks:
        fig.text(tx / W, 1 - ty / H, name, fontsize=27.5, fontweight='bold', ha='center', va='center', color='black')
        fig.add_artist(plt.Rectangle((rx0 / W, 1 - (ry + 2.5) / H), (rx1 - rx0) / W, 5 / H,
                                     transform=fig.transFigure, color='black', lw=0))
        for i, label in enumerate(treatments):
            col, row = slots[i]
            key = prefix + '_' + label.lower()
            drawPanel(fig, lefts[col], tops[row], label, live_pct[i], dead_pct[i],
                      globals()[key + '_core'], globals()[key + '_live'], globals()[key + '_dead'])
    fig.savefig('out.png', dpi=100)


if __name__ == '__main__':
    main()
